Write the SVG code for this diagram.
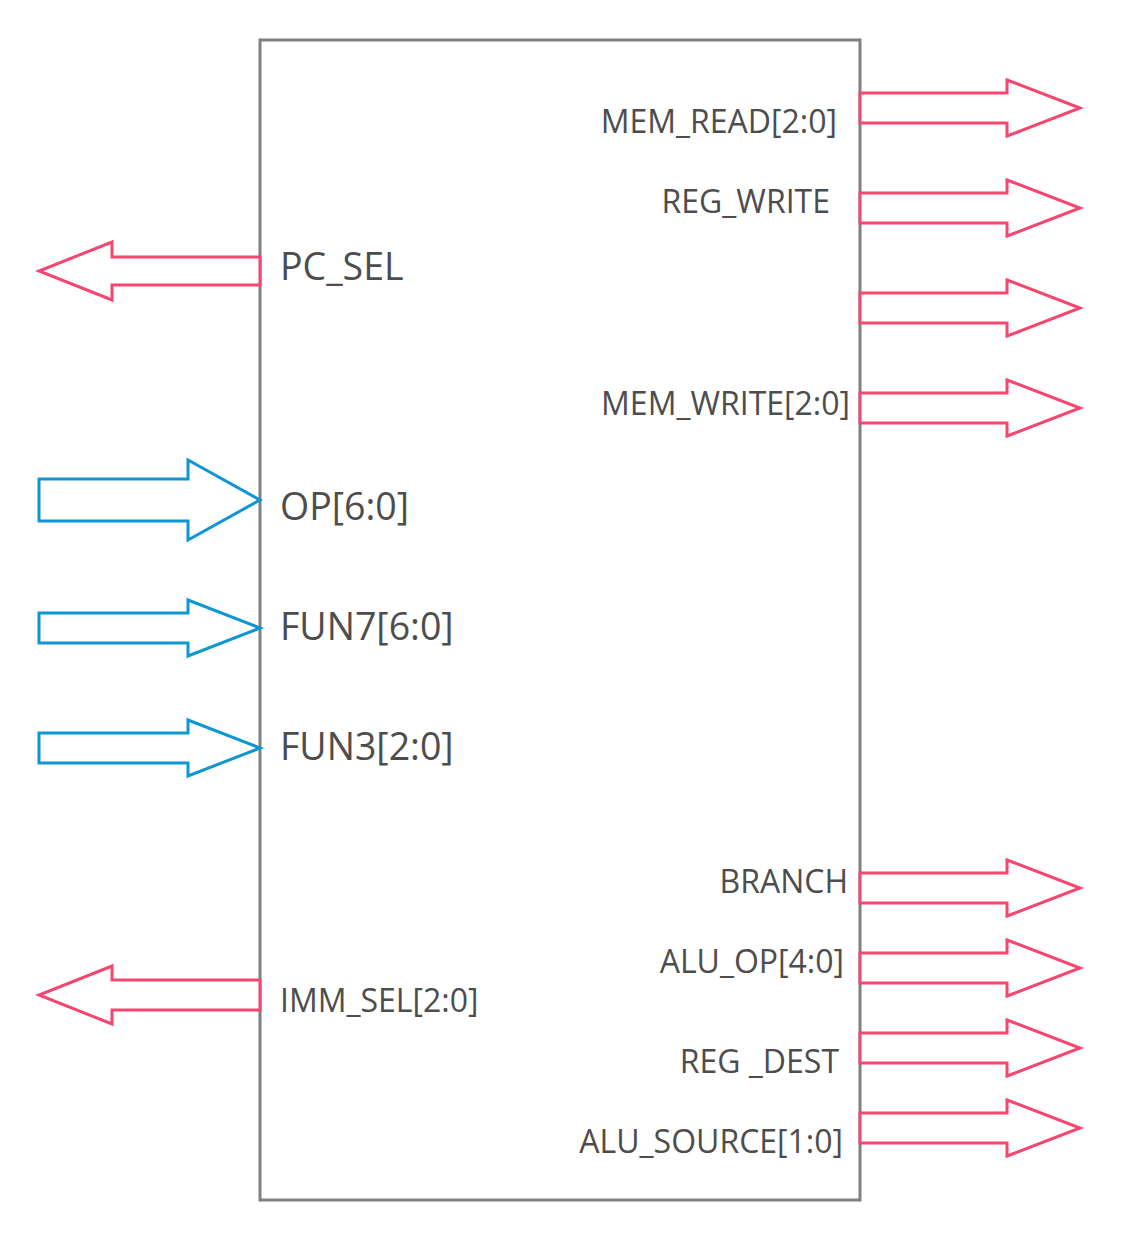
<svg xmlns="http://www.w3.org/2000/svg" width="1121" height="1241" viewBox="0 0 1121 1241">
<style>
.box{fill:#fff;stroke:#808080;stroke-width:3}
.out{fill:#fff;stroke:#f5466f;stroke-width:3;stroke-linejoin:miter}
.in{fill:#fff;stroke:#0e96d2;stroke-width:3;stroke-linejoin:miter}
.t{font-family:"Open Sans","Liberation Sans",sans-serif;fill:#4d4d4d}
.big{font-size:37.5px}
.sm{font-size:32px}
.r{text-anchor:end}
</style>
<rect width="1121" height="1241" fill="#fff"/>
<g id="block">
<rect class="box" x="260" y="40" width="600" height="1160"/>
</g>
<g id="connectors">
<path class="out" d="M260,257 H112 V242 L39,271 L112,300 V285 H260 Z"/>
<path class="out" d="M260,980 H112 V966 L39,995 L112,1024 V1010 H260 Z"/>
<path class="in" d="M39,479 H188 V460 L260,500 L188,540 V521 H39 Z"/>
<path class="in" d="M39,613 H188 V600 L260,628 L188,656 V643 H39 Z"/>
<path class="in" d="M39,733 H188 V720 L260,748 L188,776 V763 H39 Z"/>
<path class="out" d="M860,93 H1007 V80 L1080,108 L1007,136 V123 H860 Z"/>
<path class="out" d="M860,193 H1007 V180 L1080,208 L1007,236 V223 H860 Z"/>
<path class="out" d="M860,293 H1007 V280 L1080,308 L1007,336 V323 H860 Z"/>
<path class="out" d="M860,393 H1007 V380 L1080,408 L1007,436 V423 H860 Z"/>
<path class="out" d="M860,873 H1007 V860 L1080,888 L1007,916 V903 H860 Z"/>
<path class="out" d="M860,953 H1007 V940 L1080,968 L1007,996 V983 H860 Z"/>
<path class="out" d="M860,1033 H1007 V1020 L1080,1048 L1007,1076 V1063 H860 Z"/>
<path class="out" d="M860,1113 H1007 V1100 L1080,1128 L1007,1156 V1143 H860 Z"/>
</g>
<g id="labels">
<text class="t big" x="280" y="280">PC_SEL</text>
<text class="t big" x="280" y="520">OP[6:0]</text>
<text class="t big" x="280" y="640">FUN7[6:0]</text>
<text class="t big" x="280" y="760">FUN3[2:0]</text>
<text class="t sm" x="280" y="1012">IMM_SEL[2:0]</text>
<text class="t sm r" x="837" y="133">MEM_READ[2:0]</text>
<text class="t sm r" x="830" y="213">REG_WRITE</text>
<text class="t sm r" x="850" y="415">MEM_WRITE[2:0]</text>
<text class="t sm r" x="848" y="893">BRANCH</text>
<text class="t sm r" x="844" y="973">ALU_OP[4:0]</text>
<text class="t sm r" x="839" y="1073">REG _DEST</text>
<text class="t sm r" x="843" y="1153">ALU_SOURCE[1:0]</text>
</g>
</svg>
